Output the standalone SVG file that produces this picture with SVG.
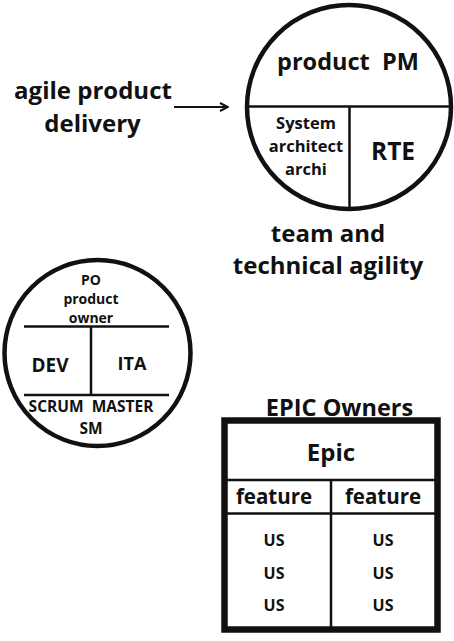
<svg xmlns="http://www.w3.org/2000/svg" width="454" height="641" viewBox="0 0 454 641">
<defs>
<style>
text{font-family:"Open Sans","Liberation Sans",sans-serif;font-weight:700;fill:#111;text-anchor:middle;white-space:pre}
.ln{stroke:#111;stroke-width:2.5;fill:none}
.circ{stroke:#111;stroke-width:4.5;fill:#fff}
</style>
<marker id="ah" viewBox="0 0 10 10" refX="9" refY="5" markerWidth="10" markerHeight="10" markerUnits="userSpaceOnUse" orient="auto">
<path d="M1,1 L9,5 L1,9" fill="none" stroke="#111" stroke-width="2"/>
</marker>
</defs>
<rect width="454" height="641" fill="#fff"/>
<g id="label-apd">
<text x="93" y="99" font-size="24">agile product</text>
<text x="92.5" y="132" font-size="24">delivery</text>
</g>
<g id="art-circle">
<circle class="circ" cx="349" cy="107" r="102"/>
<line class="ln" x1="246" y1="106.5" x2="452" y2="106.5"/>
<line class="ln" x1="349.5" y1="106.5" x2="349.5" y2="208"/>
<text x="348" y="70" font-size="23.5" xml:space="preserve">product  PM</text>
<text x="306" y="129" font-size="16.5">System</text>
<text x="306" y="152" font-size="16.5">architect</text>
<text x="306" y="175" font-size="16.5">archi</text>
<text x="393" y="160" font-size="24.5">RTE</text>
</g>
<g id="label-tta">
<text x="328" y="242" font-size="24">team and</text>
<text x="328" y="274" font-size="24">technical agility</text>
</g>
<g id="team-circle">
<circle class="circ" cx="97.5" cy="353" r="93"/>
<line class="ln" x1="24" y1="326.5" x2="169" y2="326.5"/>
<line class="ln" x1="24" y1="395" x2="169" y2="395"/>
<line class="ln" x1="91" y1="326.5" x2="91" y2="395"/>
<text x="91" y="285" font-size="14">PO</text>
<text x="91" y="304" font-size="14">product</text>
<text x="91" y="323" font-size="14">owner</text>
<text x="50" y="372" font-size="19">DEV</text>
<text x="132" y="370" font-size="18">ITA</text>
<text x="91" y="412" font-size="15.5" xml:space="preserve">SCRUM  MASTER</text>
<text x="91" y="434" font-size="15.5">SM</text>
</g>
<g id="epic-table">
<text x="339.5" y="416" font-size="23.5">EPIC Owners</text>
<rect x="224.5" y="420.5" width="213" height="209" fill="#fff" stroke="#111" stroke-width="6.5"/>
<line class="ln" x1="227" y1="480" x2="435" y2="480"/>
<line class="ln" x1="227" y1="513.5" x2="435" y2="513.5"/>
<line class="ln" x1="331" y1="480" x2="331" y2="627"/>
<text x="331" y="461" font-size="24">Epic</text>
<text x="274" y="504" font-size="20.5">feature</text>
<text x="383" y="504" font-size="20.5">feature</text>
<text x="274" y="546" font-size="16">US</text>
<text x="274" y="579" font-size="16">US</text>
<text x="274" y="611" font-size="16">US</text>
<text x="383" y="546" font-size="16">US</text>
<text x="383" y="579" font-size="16">US</text>
<text x="383" y="611" font-size="16">US</text>
</g>
<g id="connectors">
<line x1="174" y1="107" x2="228" y2="107" stroke="#111" stroke-width="2" marker-end="url(#ah)"/>
</g>
</svg>
